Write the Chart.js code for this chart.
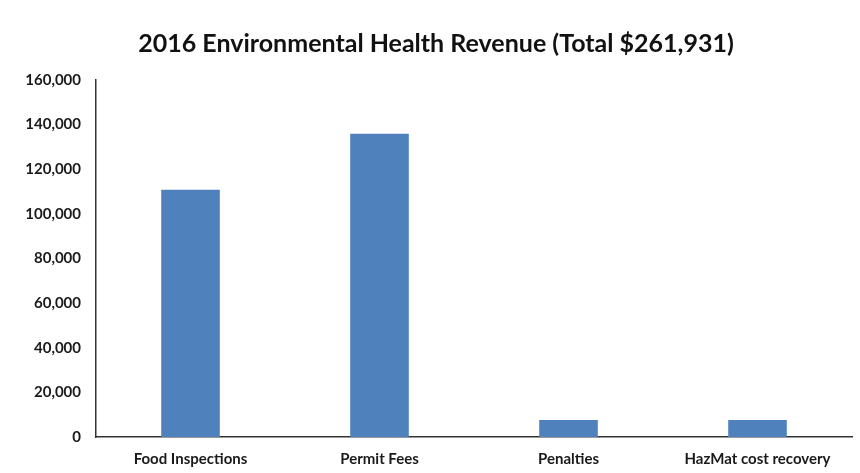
<!DOCTYPE html>
<html>
<head>
<meta charset="utf-8">
<script src="https://cdn.jsdelivr.net/npm/chart.js@4"></script>
<style>
    html, body { margin: 0; padding: 0; background: #ffffff; }
    .frame { position: relative; width: 860px; height: 473px; }
</style>
</head>
<body>
<div class="frame"><canvas id="revenueChart" width="860" height="473"></canvas></div>
<script>
// Revenue by source
const categories = ['Food Inspections', 'Permit Fees', 'Penalties', 'HazMat cost recovery'];
const revenue = [110800, 135900, 7600, 7631];
const yTicks = [0, 20000, 40000, 60000, 80000, 100000, 120000, 140000, 160000];

const labelFont = { family: "Lato, 'Open Sans', sans-serif", size: 15, weight: 'bold' };

const ctx = document.getElementById('revenueChart').getContext('2d');

const revenueChart = new Chart(ctx, {
    type: 'bar',
    data: {
        labels: categories,
        datasets: [{
            label: 'Revenue',
            data: revenue,
            backgroundColor: '#4F81BD',
            borderWidth: 0,
            categoryPercentage: 1,
            barPercentage: 0.31
        }]
    },
    options: {
        responsive: false,
        animation: false,
        layout: {
            padding: { top: 12, right: 8, bottom: 0, left: 20 }
        },
        plugins: {
            legend: { display: false },
            tooltip: { enabled: false },
            title: {
                display: true,
                text: '2016 Environmental Health Revenue (Total $261,931)',
                color: '#111111',
                font: { family: "Lato, 'Open Sans', sans-serif", size: 25, weight: 'bold' },
                padding: { top: 17, bottom: 21 }
            }
        },
        scales: {
            x: {
                afterFit: (axis) => {
                    axis.height = 36;
                },
                grid: { display: false, drawTicks: false },
                border: { display: true, color: '#333333', width: 1.5 },
                ticks: {
                    color: '#1a1a1a',
                    font: labelFont,
                    padding: 13,
                    maxRotation: 0
                }
            },
            y: {
                min: 0,
                max: 160000,
                afterBuildTicks: (axis) => {
                    axis.ticks = yTicks.map(v => ({ value: v }));
                },
                afterFit: (axis) => {
                    axis.width = 76;
                },
                grid: { display: false, drawTicks: false },
                border: { display: true, color: '#333333', width: 1.5 },
                ticks: {
                    color: '#1a1a1a',
                    font: labelFont,
                    padding: 15,
                    callback: (value) => value.toLocaleString('en-US')
                }
            }
        }
    }
});
</script>
</body>
</html>
